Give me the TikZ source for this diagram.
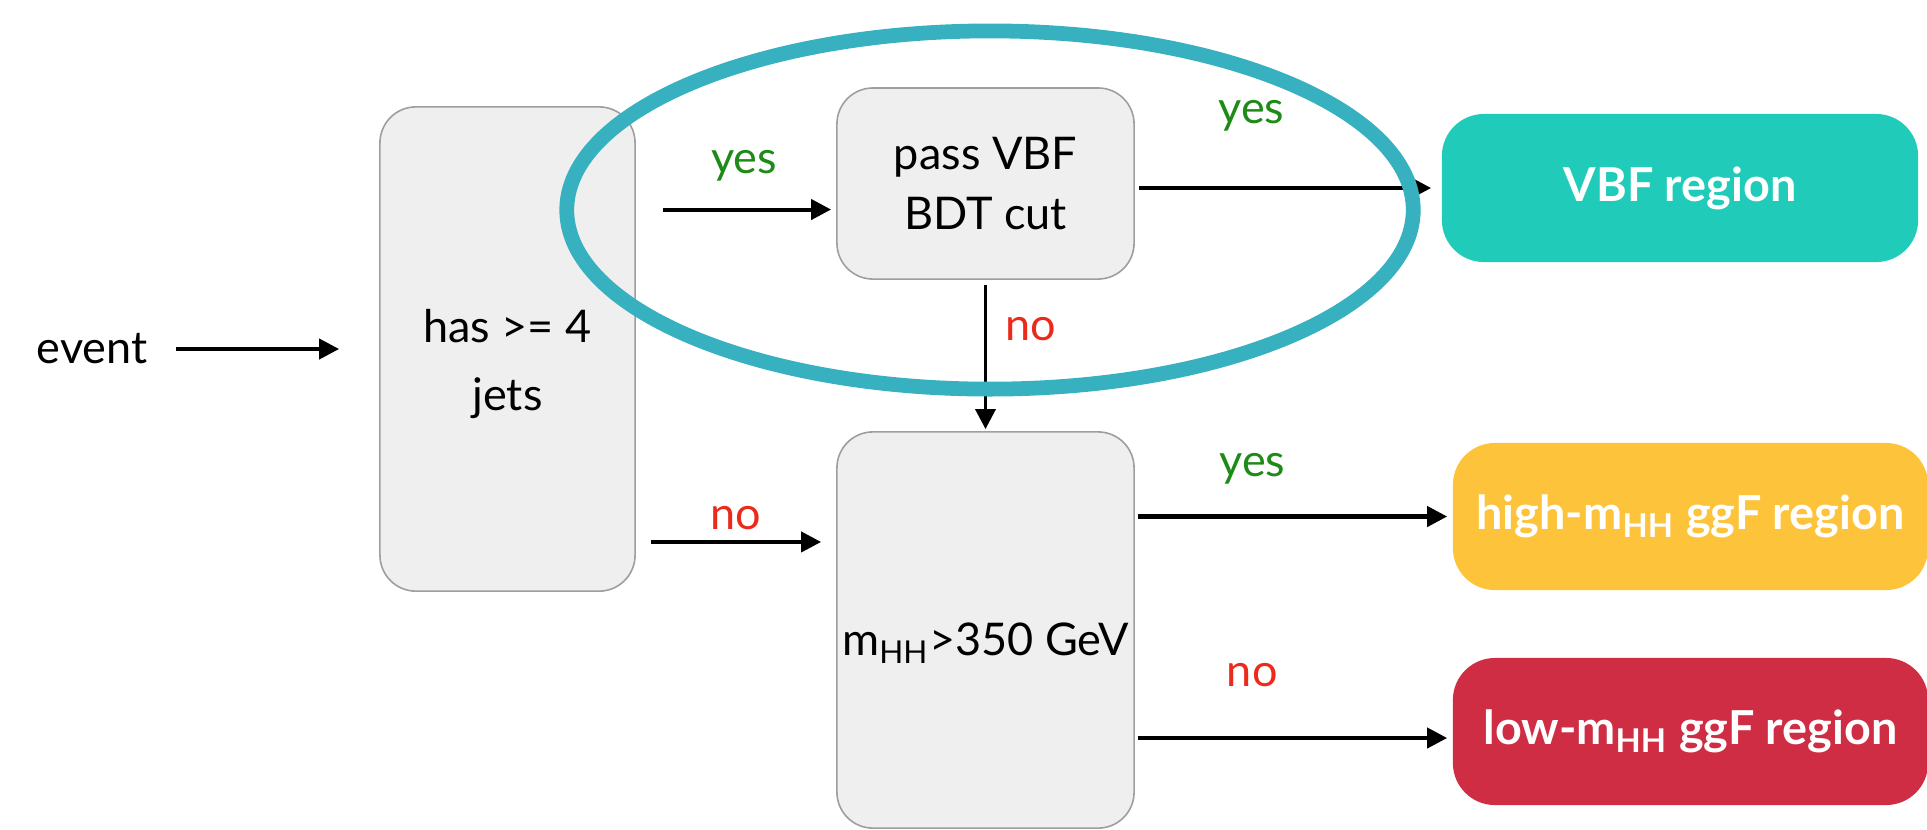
\documentclass[tikz,border=0pt]{standalone}
\usepackage{fontspec}
\setmainfont{Lato}
\usepackage{xcolor}
\usetikzlibrary{arrows.meta}

\definecolor{boxgray}{HTML}{EFEFEF}
\definecolor{boxline}{HTML}{9E9E9E}
\definecolor{vbfteal}{HTML}{20CBB9}
\definecolor{ggfyellow}{HTML}{FDC33B}
\definecolor{ggfred}{HTML}{CF2D43}
\definecolor{ringteal}{HTML}{37B0BF}
\definecolor{yesgreen}{HTML}{1E8A17}
\definecolor{nored}{HTML}{EC2A1C}

\newcommand{\flowfont}{\fontsize{12.8}{17}\selectfont}

\tikzset{
  cutbox/.style={draw=boxline, fill=boxgray, line width=0.45pt, rounded corners=0.36cm, align=center, inner sep=0pt, font=\flowfont},
  cuttext/.style={font=\flowfont, align=center, inner sep=0pt},
  regionbox/.style={fill=#1, rounded corners=0.42cm, text=white, inner sep=0pt, font=\fontsize{13.3}{16}\selectfont\bfseries, minimum width=4.75cm, minimum height=1.47cm},
  arr/.style={-{Triangle[length=5.7pt,width=5.7pt]}, line width=1.15pt},
  yeslabel/.style={text=yesgreen, font=\flowfont, anchor=base, inner sep=0pt},
  nolabel/.style={text=nored, font=\flowfont, anchor=base, inner sep=0pt},
}

\begin{document}
\begin{tikzpicture}[x=0.01cm, y=-0.01cm]
        \useasboundingbox (0,0) rectangle (1927,829);
        % boxes
        \node[anchor=base, inner sep=0pt, font=\flowfont] (event) at (92,363) {event};
        \node[cutbox, minimum width=2.55cm, minimum height=4.84cm,
              label={[cuttext, yshift=-0.15cm]center:{has >= 4\\[0.08cm]jets}}] (jets) at (507.5,349) {};
        \node[cutbox, minimum width=2.97cm, minimum height=1.91cm] (vbfcut) at (985.5,183.5) {pass VBF\\BDT cut};
        \node[cutbox, minimum width=2.97cm, minimum height=3.96cm,
              label={[cuttext, yshift=-0.13cm]center:{m\textsubscript{HH}>350 GeV}}] (mhh) at (985.5,630) {};
        \node[regionbox=vbfteal, minimum width=4.76cm, minimum height=1.48cm] (vbfreg) at (1680,188) {VBF region};
        \node[regionbox=ggfyellow] (highreg) at (1690.5,516.5) {high-m\textsubscript{HH} ggF region};
        \node[regionbox=ggfred] (lowreg) at (1690.5,731.5) {low-m\textsubscript{HH} ggF region};
        \coordinate (vbfin) at ([yshift=-0.26cm]vbfcut.west);
        \coordinate (mhhin) at ([yshift=0.88cm]mhh.west);
        \coordinate (lowin) at ([yshift=-0.065cm]lowreg.west);
        % arrows
        \draw[arr, shorten <=0.28cm, shorten >=0.4cm] (event.east |- jets.west) -- (jets.west);
        \draw[arr, shorten <=0.27cm, shorten >=0.05cm] (vbfin -| jets.east) -- (vbfin) node[yeslabel, pos=0.54, yshift=0.36cm] {yes};
        \draw[arr, shorten <=0.04cm, shorten >=0.1cm] (vbfcut.east |- vbfreg.west) -- (vbfreg.west) node[yeslabel, pos=0.38, yshift=0.64cm] {yes};
        \draw[arr, line width=1pt, shorten <=0.05cm, shorten >=0.02cm] (vbfcut.south) -- (mhh.north) node[nolabel, pos=0.4, anchor=base west, xshift=0.18cm] {no};
        \draw[arr, shorten <=0.15cm, shorten >=0.15cm] (mhhin -| jets.east) -- (mhhin) node[nolabel, midway, yshift=0.12cm] {no};
        \draw[arr, shorten <=0.03cm, shorten >=0.05cm] (mhh.east |- highreg.west) -- (highreg.west) node[yeslabel, pos=0.37, yshift=0.4cm] {yes};
        \draw[arr, shorten <=0.03cm, shorten >=0.05cm] (mhh.east |- lowin) -- (lowin) node[nolabel, pos=0.37, yshift=0.51cm] {no};
        % ring
        \draw[ringteal, line width=4.2pt] (990,210) ellipse [x radius=4.23cm, y radius=1.79cm];
\end{tikzpicture}
\end{document}
